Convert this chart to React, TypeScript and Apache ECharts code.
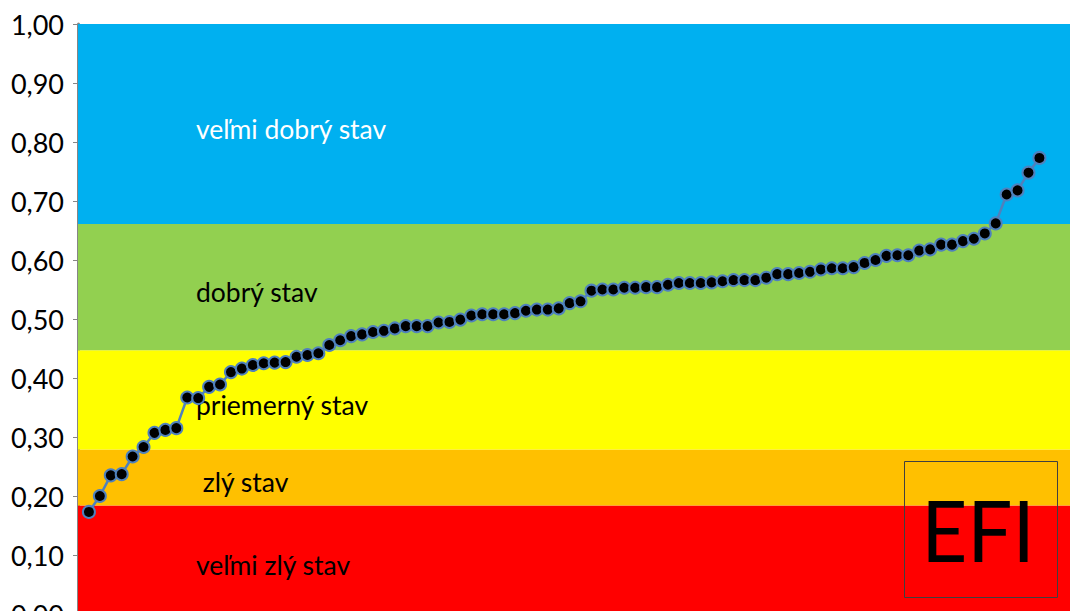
import React, { useEffect, useRef } from "react";
import * as echarts from "echarts";

// EFI values, sorted ascending (one per unit)
const values: number[] = [
  0.173, 0.200, 0.235, 0.237, 0.267, 0.283, 0.307, 0.312, 0.315, 0.367,
  0.366, 0.385, 0.389, 0.410, 0.416, 0.422, 0.425, 0.426, 0.427, 0.436,
  0.439, 0.442, 0.456, 0.464, 0.471, 0.474, 0.478, 0.480, 0.484, 0.488,
  0.488, 0.488, 0.494, 0.495, 0.499, 0.506, 0.508, 0.508, 0.508, 0.510,
  0.514, 0.516, 0.516, 0.518, 0.527, 0.530, 0.548, 0.550, 0.550, 0.553,
  0.553, 0.554, 0.554, 0.558, 0.561, 0.561, 0.561, 0.562, 0.564, 0.566,
  0.566, 0.566, 0.570, 0.576, 0.576, 0.578, 0.580, 0.584, 0.586, 0.586,
  0.588, 0.595, 0.600, 0.607, 0.608, 0.608, 0.616, 0.618, 0.626, 0.626,
  0.632, 0.636, 0.645, 0.662, 0.711, 0.718, 0.748, 0.773,
];

// Status bands (bottom → top)
const bandNames: string[] = ["veľmi zlý stav", " zlý stav", "priemerný stav", "dobrý stav", "veľmi dobrý stav"];
const bandBounds: number[] = [0, 0.184, 0.279, 0.447, 0.661, 1.0];
const bandColors: string[] = ["#FF0000", "#FFC000", "#FFFF00", "#92D050", "#00B0F0"];
const bandTextColors: string[] = ["#000000", "#000000", "#000000", "#000000", "#FFFFFF"];

const yTicks = { min: 0, max: 1, interval: 0.1 };
const boxLabel = "EFI";

export default function App() {
  const ref = useRef<HTMLDivElement>(null);

  useEffect(() => {
    if (!ref.current) return;
    const chart = echarts.init(ref.current, undefined, { renderer: "svg" });

    const areas = bandNames.map((name, i) => [
      {
        name,
        yAxis: bandBounds[i],
        itemStyle: { color: bandColors[i], opacity: 1 },
        label: {
          show: true,
          position: "insideLeft",
          offset: [113, 5],
          color: bandTextColors[i],
          fontFamily: "Lato",
          fontSize: 26.5,
        },
      },
      { yAxis: bandBounds[i + 1] },
    ]);

    chart.setOption({
      animation: false,
      grid: { left: 78, right: 0, top: 24, bottom: 26, containLabel: false },
      xAxis: {
        type: "value",
        min: 0,
        max: 90.8,
        show: false,
      },
      yAxis: {
        type: "value",
        min: yTicks.min,
        max: yTicks.max,
        interval: yTicks.interval,
        axisLine: { show: true, lineStyle: { color: "#868686", width: 3 } },
        axisTick: { show: true, length: 5, lineStyle: { color: "#868686", width: 1 } },
        splitLine: { show: false },
        axisLabel: {
          margin: 14,
          color: "#000",
          fontFamily: "Lato",
          fontSize: 27,
          formatter: (v: number) => v.toFixed(2).replace(".", ","),
        },
      },
      series: [
        {
          type: "line",
          data: values.map((v, i) => [i + 1, v]),
          symbol: "circle",
          symbolSize: 12,
          z: 5,
          lineStyle: { color: "#4F81BD", width: 2.5 },
          itemStyle: { color: "#000000", borderColor: "#4F81BD", borderWidth: 2 },
          markArea: {
            silent: true,
            z: 1,
            data: areas,
          },
        },
      ],
      graphic: [
        {
          type: "rect",
          left: 902,
          top: 459,
          shape: { width: 153, height: 136 },
          style: { fill: "none", stroke: "#404040", lineWidth: 1 },
          z: 10,
        },
        {
          type: "text",
          x: 978,
          y: 530,
          scaleX: 0.94,
          style: {
            text: boxLabel,
            font: "85px Lato",
            fill: "#000",
            textAlign: "center",
            textVerticalAlign: "middle",
          },
          z: 10,
        },
      ],
    });

    return () => chart.dispose();
  }, []);

  return (
    <div
      style={{
        position: "fixed",
        left: 0,
        top: 0,
        width: 1070,
        height: 611,
        overflow: "hidden",
        background: "#fff",
      }}
    >
      <div ref={ref} style={{ width: 1070, height: 640 }} />
    </div>
  );
}
